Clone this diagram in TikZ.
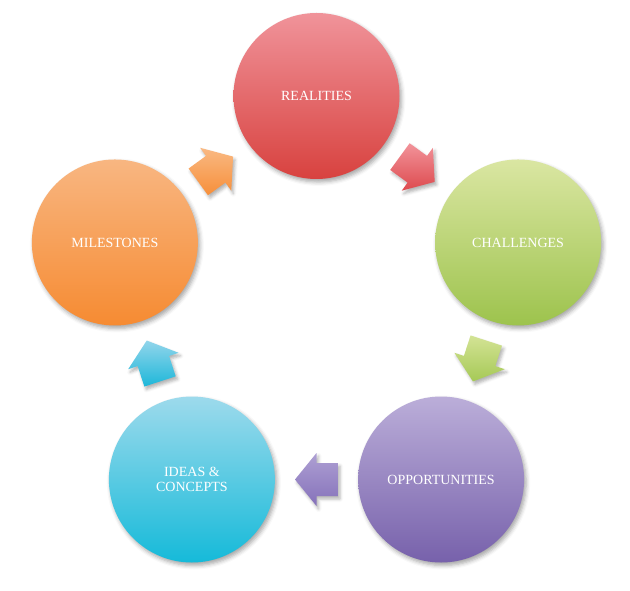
\documentclass[tikz,border=0pt]{standalone}
\usepackage{fontspec}
\setmainfont{Liberation Serif}
\usetikzlibrary{calc,shadows.blur}
\definecolor{Rtop}{HTML}{F0939A}\definecolor{Rbot}{HTML}{D8423F}
\definecolor{Ctop}{HTML}{DAE6A2}\definecolor{Cbot}{HTML}{9DC34D}
\definecolor{Otop}{HTML}{BBAED9}\definecolor{Obot}{HTML}{7761AB}
\definecolor{Itop}{HTML}{9DDAEC}\definecolor{Ibot}{HTML}{15BAD9}
\definecolor{Mtop}{HTML}{F8B681}\definecolor{Mbot}{HTML}{F68B32}
\definecolor{RAtop}{HTML}{F2939A}\definecolor{RAbot}{HTML}{DD4A4E}
\definecolor{CAtop}{HTML}{D3E395}\definecolor{CAbot}{HTML}{A6C956}
\definecolor{OAtop}{HTML}{AEA0D3}\definecolor{OAbot}{HTML}{8571BA}
\definecolor{IAtop}{HTML}{92D5EB}\definecolor{IAbot}{HTML}{1DB7D9}
\definecolor{MAtop}{HTML}{F9B983}\definecolor{MAbot}{HTML}{F78F3A}
\tikzset{
  bubble/.style={circle, minimum size=166pt, inner sep=0pt, text=white,
    font=\fontsize{14}{15}\selectfont, align=center,
    blur shadow={shadow xshift=2pt, shadow yshift=-3pt, shadow blur radius=4pt, shadow opacity=35}},
  arrshadow/.style={blur shadow={shadow xshift=2pt, shadow yshift=-3pt, shadow blur radius=3pt, shadow opacity=30}}
}
\newcommand{\blockarr}[4]{%
  \shade[top color=#3, bottom color=#4, arrshadow]
    ($(#1)+(#2:21.5)$) -- ($(#1)+(#2+90:26.5)$) -- ($(#1)+(#2+90:16.5)$)
    -- ($(#1)+(#2+180:21.5)+(#2+90:16.5)$) -- ($(#1)+(#2+180:21.5)+(#2-90:16.5)$)
    -- ($(#1)+(#2-90:16.5)$) -- ($(#1)+(#2-90:26.5)$) -- cycle;}
\begin{document}
\begin{tikzpicture}[x=1pt,y=1pt]
\useasboundingbox (0,0) rectangle (630,591);
\coordinate (ctr) at (316.5,283);
\node[bubble, top color=Rtop, bottom color=Rbot] (R) at ($(ctr)+(90:212)$) {REALITIES};
\node[bubble, top color=Ctop, bottom color=Cbot] (C) at ($(ctr)+(18:212)$) {CHALLENGES};
\node[bubble, top color=Otop, bottom color=Obot] (O) at ($(ctr)+(-54:212)$) {OPPORTUNITIES};
\node[bubble, top color=Itop, bottom color=Ibot] (I) at ($(ctr)+(-126:212)$) {IDEAS \&\\CONCEPTS};
\node[bubble, top color=Mtop, bottom color=Mbot] (M) at ($(ctr)+(162:212)$) {MILESTONES};
\coordinate (rc) at ($(R.center)!0.5!(C.center)$);
\coordinate (co) at ($(C.center)!0.5!(O.center)$);
\coordinate (oi) at ($(O.center)!0.5!(I.center)$);
\coordinate (im) at ($(I.center)!0.5!(M.center)$);
\coordinate (mr) at ($(M.center)!0.5!(R.center)$);
\blockarr{rc}{-36}{RAtop}{RAbot}
\blockarr{co}{-108}{CAtop}{CAbot}
\blockarr{oi}{180}{OAtop}{OAbot}
\blockarr{im}{108}{IAtop}{IAbot}
\blockarr{mr}{36}{MAtop}{MAbot}
\end{tikzpicture}
\end{document}
